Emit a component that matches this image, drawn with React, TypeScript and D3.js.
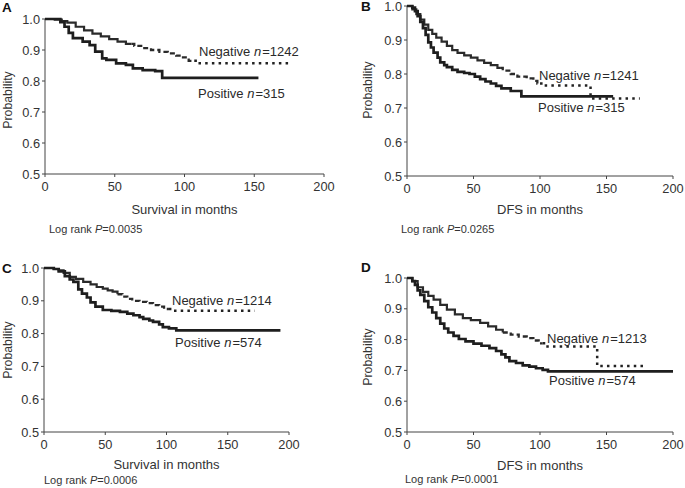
import React from 'react';
import * as d3 from 'd3';

// Kaplan-Meier curves (months, survival probability)
const yTicks = [0.5, 0.6, 0.7, 0.8, 0.9, 1.0];
const xTicks = [0, 50, 100, 150, 200];

const tA_pos = [0, 11, 14, 17, 20, 27, 32, 36, 41, 44, 51, 58, 63, 70, 79, 84, 153];
const pA_pos = [1.0, 0.99, 0.975, 0.955, 0.938, 0.927, 0.916, 0.895, 0.873, 0.868, 0.857, 0.852, 0.841, 0.835, 0.832, 0.81, 0.81];
const tA_neg = [0, 7, 12, 16, 22, 28, 34, 40, 46, 52, 58, 64, 70, 76, 82, 88, 94, 98, 103, 108, 175];
const pA_neg = [1.0, 0.998, 0.993, 0.988, 0.975, 0.963, 0.953, 0.944, 0.935, 0.927, 0.92, 0.913, 0.906, 0.9, 0.894, 0.889, 0.882, 0.876, 0.865, 0.857, 0.857];

const tB_pos = [0, 4, 6, 8, 10, 12, 14, 16, 18, 20, 23, 25, 28, 30, 34, 38, 43, 47, 51, 55, 59, 63, 67, 71, 78, 86, 155];
const pB_pos = [1, 0.995, 0.985, 0.97, 0.953, 0.935, 0.915, 0.893, 0.878, 0.863, 0.848, 0.834, 0.826, 0.82, 0.812, 0.806, 0.803, 0.8, 0.792, 0.785, 0.778, 0.772, 0.765, 0.758, 0.75, 0.734, 0.734];
const tB_neg = [0, 4, 7, 10, 13, 16, 19, 22, 26, 30, 34, 38, 43, 48, 53, 58, 63, 68, 72, 78, 83, 90, 95, 98, 101, 138, 175];
const pB_neg = [1, 0.99, 0.976, 0.96, 0.945, 0.93, 0.918, 0.907, 0.895, 0.883, 0.87, 0.862, 0.855, 0.848, 0.84, 0.833, 0.826, 0.818, 0.81, 0.8, 0.792, 0.787, 0.78, 0.772, 0.766, 0.728, 0.728];

const tC_pos = [0, 8, 12, 17, 21, 24, 28, 31, 35, 38, 42, 48, 55, 62, 68, 73, 78, 81, 86, 89, 94, 97, 102, 108, 193];
const pC_pos = [1, 0.997, 0.99, 0.975, 0.965, 0.958, 0.935, 0.922, 0.91, 0.895, 0.882, 0.872, 0.869, 0.866, 0.861, 0.856, 0.85, 0.845, 0.84, 0.836, 0.828, 0.82, 0.816, 0.81, 0.81];
const tC_neg = [0, 8, 12, 16, 21, 26, 32, 38, 43, 48, 52, 56, 60, 64, 68, 72, 78, 84, 89, 94, 98, 103, 172];
const pC_neg = [1, 0.997, 0.993, 0.985, 0.973, 0.967, 0.958, 0.95, 0.942, 0.937, 0.932, 0.928, 0.92, 0.913, 0.906, 0.9, 0.897, 0.893, 0.887, 0.882, 0.875, 0.87, 0.87];

const tD_pos = [0, 4, 6, 8, 10, 13, 16, 19, 22, 25, 28, 31, 35, 39, 44, 50, 56, 62, 67, 71, 74, 77, 82, 87, 92, 97, 102, 106, 200];
const pD_pos = [1, 0.99, 0.978, 0.96, 0.945, 0.925, 0.905, 0.888, 0.87, 0.852, 0.836, 0.823, 0.812, 0.802, 0.794, 0.787, 0.78, 0.772, 0.763, 0.752, 0.742, 0.73, 0.724, 0.716, 0.712, 0.707, 0.702, 0.697, 0.697];
const tD_neg = [0, 4, 8, 12, 16, 20, 25, 30, 36, 42, 48, 55, 61, 67, 72, 78, 84, 90, 95, 99, 103, 143, 180];
const pD_neg = [1, 0.99, 0.97, 0.955, 0.942, 0.93, 0.913, 0.897, 0.882, 0.87, 0.863, 0.854, 0.843, 0.832, 0.823, 0.816, 0.81, 0.805, 0.797, 0.788, 0.778, 0.714, 0.714];

const FONT = '"Liberation Sans", Arial, sans-serif';
const INK = '#2a2a2a';

type Pt = [number, number];
const zip = (t: number[], p: number[]): Pt[] => t.map((v, i) => [v, p[i]]);

// value of a step function at time t
const stepAt = (pts: Pt[], t: number) => {
  let v = pts[0][1];
  for (const d of pts) if (d[0] <= t) v = d[1];
  return v;
};
const slice = (pts: Pt[], a: number, b: number): Pt[] => {
  const inner = pts.filter(d => d[0] > a && d[0] < b);
  const last = Math.min(b, pts[pts.length - 1][0]);
  return [[a, stepAt(pts, a)], ...inner, [last, stepAt(pts, last)]];
};

type PanelProps = {
  letter: string; x0: number; x1: number; yTop: number; yBot: number;
  pos: Pt[]; neg: Pt[]; solidEnd: number; dashEnd: number;
  xLabel: string; pval: string; negN: string; posN: string;
  negXY: Pt; posXY: Pt; letterXY: Pt; yLabelXY: Pt; xLabelY: number; pXY: Pt;
};

const Panel = (props: PanelProps) => {
  const { x0, x1, yTop, yBot, pos, neg } = props;
  const x = d3.scaleLinear().domain([0, 200]).range([x0, x1]);
  const y = d3.scaleLinear().domain([0.5, 1.0]).range([yBot, yTop]);
  const line = d3.line<Pt>().x(d => x(d[0])).y(d => y(d[1])).curve(d3.curveStepAfter);
  const negEnd = neg[neg.length - 1][0];
  return (
    <g>
      <text x={props.letterXY[0]} y={props.letterXY[1]} fontFamily={FONT} fontWeight="bold" fontSize={13.5} fill="#111">{props.letter}</text>
      {/* axes */}
      <line x1={x0} x2={x0} y1={yTop} y2={yBot} stroke="#444" strokeWidth={1} />
      <line x1={x0} x2={x1} y1={yBot} y2={yBot} stroke="#444" strokeWidth={1} />
      {yTicks.map(v => (
        <g key={'y' + v}>
          <line x1={x0 - 3} x2={x0} y1={y(v)} y2={y(v)} stroke="#444" />
          <text x={x0 - 5} y={Math.max(y(v) + 4.5, 11)} textAnchor="end" fontFamily={FONT} fontSize={12.8} fill="#333">{v.toFixed(1)}</text>
        </g>
      ))}
      {xTicks.map(v => (
        <g key={'x' + v}>
          <line x1={x(v)} x2={x(v)} y1={yBot} y2={yBot + 3} stroke="#444" />
          <text x={x(v)} y={yBot + 17} textAnchor="middle" fontFamily={FONT} fontSize={12.8} fill="#333">{v}</text>
        </g>
      ))}
      <text transform={`translate(${props.yLabelXY[0]},${props.yLabelXY[1]}) rotate(-90)`} textAnchor="middle" fontFamily={FONT} fontSize={12.3} fill="#333">Probability</text>
      <text x={(x0 + x1) / 2} y={props.xLabelY} textAnchor="middle" fontFamily={FONT} fontSize={13} fill="#333">{props.xLabel}</text>
      <text x={props.pXY[0]} y={props.pXY[1]} fontFamily={FONT} fontSize={11} fill="#333">
        Log rank <tspan fontStyle="italic">P</tspan>={props.pval}
      </text>
      {/* curves */}
      <path d={line(slice(neg, 0, props.solidEnd)) || ''} fill="none" stroke="#2a2a2a" strokeWidth={2.2} />
      <path d={line(slice(neg, props.solidEnd, props.dashEnd)) || ''} fill="none" stroke="#2a2a2a" strokeWidth={2.3} strokeDasharray="5,3" />
      <path d={line(slice(neg, props.dashEnd, negEnd)) || ''} fill="none" stroke="#222" strokeWidth={2.5} strokeDasharray="2.5,4.2" />
      <path d={line(pos) || ''} fill="none" stroke="#1e1e1e" strokeWidth={2.7} />
      {/* legend labels */}
      <text x={props.negXY[0]} y={props.negXY[1]} fontFamily={FONT} fontSize={13} fill={INK}>
        Negative <tspan fontStyle="italic">n</tspan><tspan dx={1}>={props.negN}</tspan>
      </text>
      <text x={props.posXY[0]} y={props.posXY[1]} fontFamily={FONT} fontSize={13} fill={INK}>
        Positive <tspan fontStyle="italic">n</tspan><tspan dx={1}>={props.posN}</tspan>
      </text>
    </g>
  );
};

const App = () => (
  <svg width={685} height={488} style={{ position: 'absolute', left: 0, top: 0, background: '#fff' }}>
    <Panel letter="A" x0={45} x1={324} yTop={19} yBot={174}
      pos={zip(tA_pos, pA_pos)} neg={zip(tA_neg, pA_neg)} solidEnd={62} dashEnd={107}
      xLabel="Survival in months" pval="0.0035" negN="1242" posN="315"
      negXY={[199, 56]} posXY={[198, 98]} letterXY={[2, 12]} yLabelXY={[12, 100]} xLabelY={214} pXY={[49, 233]} />
    <Panel letter="B" x0={407} x1={673} yTop={6} yBot={176}
      pos={zip(tB_pos, pB_pos)} neg={zip(tB_neg, pB_neg)} solidEnd={70} dashEnd={100}
      xLabel="DFS in months" pval="0.0265" negN="1241" posN="315"
      negXY={[539, 80]} posXY={[538, 112]} letterXY={[361, 11]} yLabelXY={[372, 90]} xLabelY={214} pXY={[401, 233]} />
    <Panel letter="C" x0={44} x1={289} yTop={268} yBot={432}
      pos={zip(tC_pos, pC_pos)} neg={zip(tC_neg, pC_neg)} solidEnd={60} dashEnd={102}
      xLabel="Survival in months" pval="0.0006" negN="1214" posN="574"
      negXY={[172, 305]} posXY={[175, 347]} letterXY={[2, 273]} yLabelXY={[12, 350]} xLabelY={469} pXY={[44, 484]} />
    <Panel letter="D" x0={407} x1={673} yTop={278} yBot={432}
      pos={zip(tD_pos, pD_pos)} neg={zip(tD_neg, pD_neg)} solidEnd={72} dashEnd={102}
      xLabel="DFS in months" pval="0.0001" negN="1213" posN="574"
      negXY={[547, 343]} posXY={[549, 385]} letterXY={[361, 272]} yLabelXY={[372, 357]} xLabelY={470} pXY={[405, 483]} />
  </svg>
);

export default App;
